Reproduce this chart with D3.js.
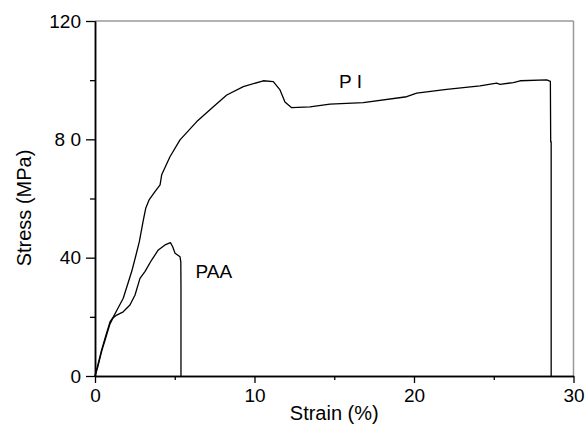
<!DOCTYPE html>
<html><head><meta charset="utf-8">
<script src="https://cdn.jsdelivr.net/npm/d3@7"></script>
<style>
body{margin:0;background:#fff}
svg{display:block}
text{font-family:"Liberation Sans",Arial,sans-serif;fill:#000}
</style>
</head><body><svg id="c" width="587" height="442"></svg>
<script>
const piStrain = [0,0.13,0.38,0.69,0.94,1.15,1.38,1.77,2.30,2.57,2.78,3.03,3.18,3.39,3.76,4.08,4.18,4.70,5.33,6.38,7.42,8.26,9.30,10.55,11.18,11.60,11.91,12.33,13.48,14.73,16.82,19.54,20.17,22.05,24.14,25.18,25.39,26.23,26.65,28.32,28.55,28.57,28.60,28.60];
const piStress = [0,2.7,8.1,13.9,18.3,20.0,22.3,26.3,35.3,40.9,45.4,52.7,56.7,59.5,62.3,64.6,68.0,74.1,79.8,86.0,91.0,95.0,97.8,99.8,99.5,96.7,92.6,90.7,91.0,91.9,92.4,94.4,95.6,96.9,98.1,99.0,98.6,99.2,99.8,100.1,99.6,79.2,79.2,0];
const paaStrain = [0,0.19,0.44,0.69,0.94,1.13,1.36,1.77,2.19,2.51,2.82,3.13,3.55,3.97,4.39,4.73,4.87,5.02,5.33,5.38,5.39,5.39];
const paaStress = [0,3.4,8.8,13.2,17.6,19.6,20.6,21.7,24.0,27.4,33.0,35.3,39.2,42.6,44.3,45.1,43.7,41.5,40.3,38.6,30.2,0];
const xTicks = [0,10,20,30];
const xTickLabels = ["0","10","20","30"];
const xMinor = [5,15,25];
const yTicks = [0,40,80,120];
const yTickLabels = ["0","40","8 0","120"];
const yMinor = [20,60,100];
const seriesLabels = [{name:"P I", x:15.3, y:97.3}, {name:"PAA", x:6.3, y:33}];

const svg = d3.select("#c");
const L=95, R=573.5, T=21, B=376;
const x = d3.scaleLinear().domain([0,30]).range([L,R]);
const y = d3.scaleLinear().domain([0,120]).range([B,T]);
const fs = 19;

// frame top/right (grey)
svg.append("line").attr("x1",L).attr("x2",R).attr("y1",T).attr("y2",T).attr("stroke","#999").attr("stroke-width",1.5);
svg.append("line").attr("x1",R).attr("x2",R).attr("y1",T).attr("y2",B).attr("stroke","#999").attr("stroke-width",1.5);

function styleAxis(g){
  g.select(".domain").attr("stroke","#000").attr("stroke-width",1.5);
  g.selectAll(".tick line").attr("stroke","#000").attr("stroke-width",1.3);
  g.selectAll("text").attr("font-size",fs).attr("font-family",'"Liberation Sans",Arial,sans-serif').attr("fill","#000");
}
const gx = svg.append("g").attr("transform",`translate(0,${B})`)
  .call(d3.axisBottom(x).tickValues(xTicks).tickFormat((d,i)=>xTickLabels[i]).tickSize(7).tickPadding(6).tickSizeOuter(0));
styleAxis(gx);
const gxm = svg.append("g").attr("transform",`translate(0,${B})`)
  .call(d3.axisBottom(x).tickValues(xMinor).tickFormat("").tickSize(4).tickSizeOuter(0));
styleAxis(gxm);
const gy = svg.append("g").attr("transform",`translate(${L},0)`)
  .call(d3.axisLeft(y).tickValues(yTicks).tickFormat((d,i)=>yTickLabels[i]).tickSize(9).tickPadding(5).tickSizeOuter(0));
styleAxis(gy);
const gym = svg.append("g").attr("transform",`translate(${L},0)`)
  .call(d3.axisLeft(y).tickValues(yMinor).tickFormat("").tickSize(5).tickSizeOuter(0));
styleAxis(gym);

const line = d3.line().x(d=>x(d[0])).y(d=>y(d[1]));
svg.append("path").datum(piStrain.map((v,i)=>[v,piStress[i]]))
  .attr("d",line).attr("fill","none").attr("stroke","#000").attr("stroke-width",1.3).attr("stroke-linejoin","round");
svg.append("path").datum(paaStrain.map((v,i)=>[v,paaStress[i]]))
  .attr("d",line).attr("fill","none").attr("stroke","#000").attr("stroke-width",1.3).attr("stroke-linejoin","round");

svg.selectAll(".slab").data(seriesLabels).enter().append("text")
  .attr("x",d=>x(d.x)).attr("y",d=>y(d.y)).attr("font-size",fs).text(d=>d.name);

svg.append("text").attr("x",(L+R)/2).attr("y",420).attr("text-anchor","middle").attr("font-size",20).text("Strain (%)");
svg.append("text").attr("transform",`translate(31,208) rotate(-90)`).attr("text-anchor","middle").attr("font-size",20).text("Stress (MPa)");
</script></body></html>
